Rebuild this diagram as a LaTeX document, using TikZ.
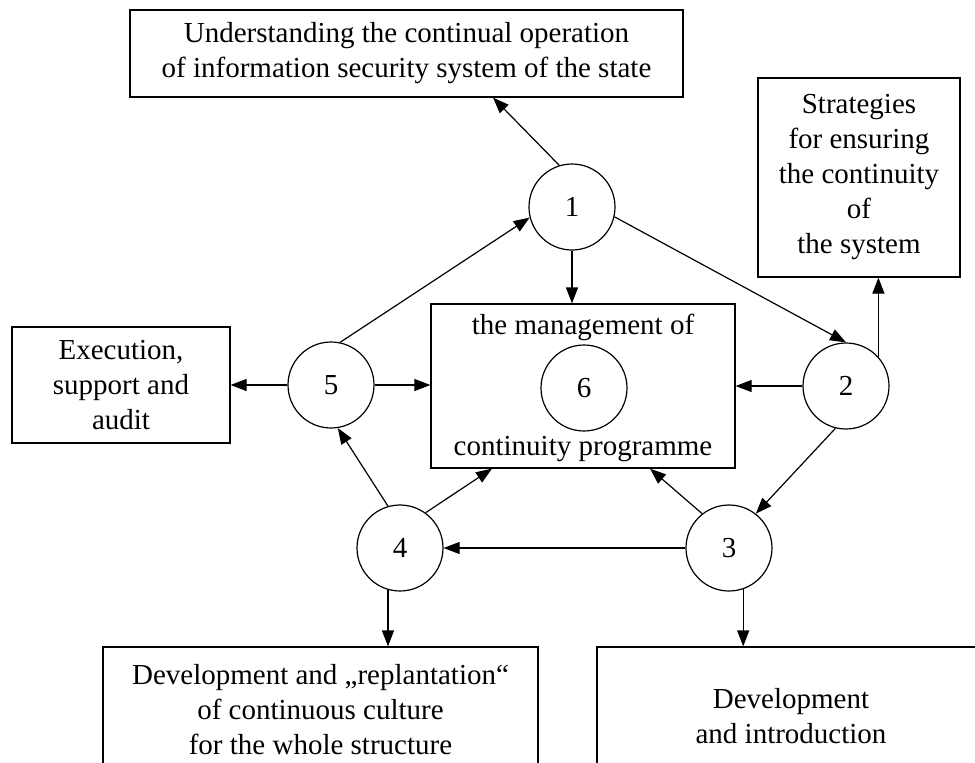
\documentclass[tikz,border=0pt]{standalone}
\usepackage{fontspec}
\setmainfont{Liberation Serif}
\usetikzlibrary{arrows.meta,calc}
\newcommand{\diagfont}{\fontsize{14.5}{17.5}\selectfont}

\begin{document}
\begin{tikzpicture}[x=0.5pt,y=-0.5pt,line width=0.6pt,
  box/.style={draw,align=center,inner sep=0pt,font=\diagfont},
  num/.style={draw,circle,minimum size=43pt,inner sep=0pt,font=\diagfont},
  txt/.style={inner sep=0pt,font=\diagfont},
  fl/.style={-{Triangle[length=8pt,width=6pt]}}]

\useasboundingbox (0,0) rectangle (975,762);
\clip (0,0) rectangle (975,762);

% Les cadres
\node[box,minimum width=276.5pt,minimum height=43.5pt] (underst) at (406.5,53.5)
  {Understanding the continual operation\\of information security system of the state};
\node[box,minimum width=101pt,minimum height=99.5pt] (strat) at (859,177.5)
  {Strategies\\for ensuring\\the continuity\\of\\the system};
\node[box,minimum width=109pt,minimum height=58pt] (exec) at (121,385)
  {Execution,\\support and\\audit};
\node[box,minimum width=152pt,minimum height=82pt] (mgmt) at (583,386) {};
\node[txt,anchor=base] (mgmttop) at ([yshift=-15.5pt]mgmt.north) {the management of};
\node[txt,anchor=base] (mgmtbot) at ([yshift=6.5pt]mgmt.south) {continuity programme};
\node[box,minimum width=217.5pt,minimum height=63pt] (culture) at (320.5,710)
  {Development and „replantation“\\of continuous culture\\for the whole structure};
\node[box,minimum width=194pt,minimum height=69pt] (intro) at (791,716)
  {Development\\and introduction};

% Les cercles
\node[num] (c1) at (572,207) {1};
\node[num] (c2) at (846,386) {2};
\node[num] (c3) at (729,548) {3};
\node[num] (c4) at (400,548) {4};
\node[num] (c5) at (331,385) {5};
\node[num] (c6) at (584,388) {6};

% Les fleches
\draw[fl] (c1.107) -- ([xshift=43.25pt]underst.south);
\draw[fl] (c1.south) -- (c1.south |- mgmt.north);
\draw[fl] (c1.-13) -- (c2.north);
\draw[fl] (c2.42) -- (c2.42 |- strat.south);
\draw[fl] (c2.west) -- (c2.west -| mgmt.east);
\draw[fl] (c2.-104) -- (c3.52);
\draw[fl] (c3.128) -- ([xshift=33.5pt]mgmt.south);
\draw[fl] (c3.west) -- (c4.east);
\draw[fl] (c3.-71) -- (c3.-71 |- intro.north);
\draw[fl] (c4.54) -- ([xshift=-45.5pt]mgmt.south);
\draw[fl] (c4.106) -- (c5.-81);
\draw[fl] (c4.-106) -- (c4.-106 |- culture.north);
\draw[fl] (c5.78) -- (c1.194);
\draw[fl] (c5.west) -- (exec.east);
\draw[fl] (c5.east) -- (c5.east -| mgmt.west);

\end{tikzpicture}
\end{document}
